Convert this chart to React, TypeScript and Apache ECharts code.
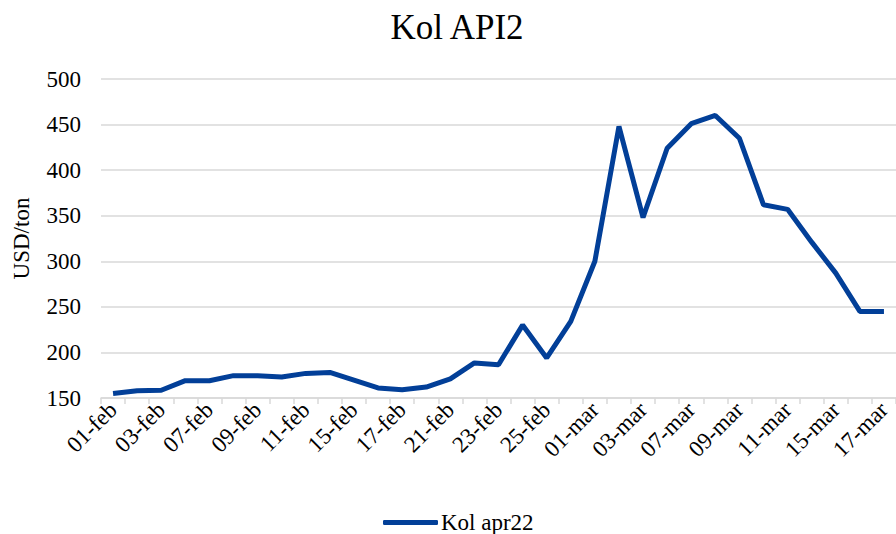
import React, { useEffect, useRef } from "react";
import * as echarts from "echarts";

const categories = [
  "01-feb", "02-feb", "03-feb", "04-feb", "07-feb", "08-feb", "09-feb", "10-feb", "11-feb",
  "14-feb", "15-feb", "16-feb", "17-feb", "18-feb", "21-feb", "22-feb", "23-feb", "24-feb",
  "25-feb", "28-feb", "01-mar", "02-mar", "03-mar", "04-mar", "07-mar", "08-mar", "09-mar",
  "10-mar", "11-mar", "14-mar", "15-mar", "16-mar", "17-mar",
];

const kolApr22 = [
  155, 158, 158.5, 169, 169, 174.5, 174.5, 173, 177, 178, 169.5, 161, 159, 162, 171, 188.5,
  186.5, 230, 194, 234, 300, 448, 348, 424, 451, 460, 435, 362, 357, 321, 287, 245, 245,
];

const yTicks = { min: 150, max: 500, interval: 50 };

const FONT = "'Liberation Serif', 'Times New Roman', serif";

export default function App() {
  const ref = useRef<HTMLDivElement>(null);

  useEffect(() => {
    if (!ref.current) return;
    const chart = echarts.init(ref.current, undefined, { renderer: "svg" });
    chart.setOption({
      animation: false,
      backgroundColor: "#ffffff",
      title: {
        text: "Kol API2",
        left: 452,
        textAlign: "center",
        top: 5,
        textStyle: { fontFamily: FONT, fontSize: 35, fontWeight: "normal", color: "#000" },
      },
      grid: { left: 101, top: 79, width: 801, height: 319, containLabel: false },
      legend: {
        top: 506,
        left: 378,
        itemWidth: 55,
        itemHeight: 5,
        itemGap: 10,
        textStyle: { fontFamily: FONT, fontSize: 23, color: "#000", padding: [0, 0, 0, -2] },
        data: [{ name: "Kol apr22", icon: "roundRect" }],
      },
      xAxis: {
        type: "category",
        data: categories,
        boundaryGap: true,
        axisLine: { show: true, lineStyle: { color: "#d9d9d9", width: 1.5 } },
        axisTick: { show: true, interval: 0, length: 6, lineStyle: { color: "#d9d9d9", width: 1.5 } },
        axisLabel: {
          interval: 1,
          rotate: 45,
          margin: 8,
          fontFamily: FONT,
          fontSize: 23,
          color: "#000",
        },
      },
      yAxis: {
        type: "value",
        min: yTicks.min,
        max: yTicks.max,
        interval: yTicks.interval,
        name: "USD/ton",
        nameLocation: "middle",
        nameRotate: 90,
        nameGap: 68,
        nameTextStyle: { fontFamily: FONT, fontSize: 23, color: "#000" },
        axisLine: { show: false },
        axisTick: { show: false },
        splitLine: { lineStyle: { color: "#d9d9d9", width: 1.5 } },
        axisLabel: { fontFamily: FONT, fontSize: 23, color: "#000", margin: 20 },
      },
      series: [
        {
          name: "Kol apr22",
          type: "line",
          data: kolApr22,
          symbol: "none",
          lineStyle: { color: "#023f98", width: 5 },
          itemStyle: { color: "#023f98" },
        },
      ],
    });
    return () => chart.dispose();
  }, []);

  return (
    <div
      ref={ref}
      style={{ position: "fixed", left: 0, top: 0, width: 896, height: 534, background: "#fff" }}
    />
  );
}
